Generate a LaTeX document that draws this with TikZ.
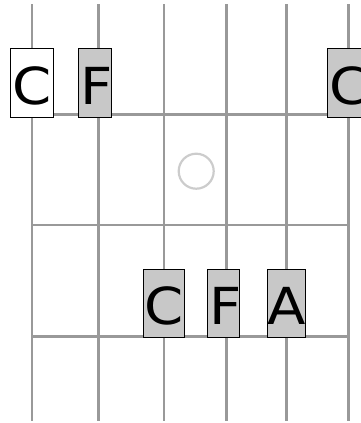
\documentclass[tikz,border=0pt]{standalone}
\usepackage{fontspec}
\setmainfont{DejaVu Sans}
\newfontfamily\notefont[FakeStretch=1.1]{DejaVu Sans}
\definecolor{gridgray}{HTML}{999999}
\definecolor{boxgray}{HTML}{C8C8C8}
\definecolor{markgray}{HTML}{CCCCCC}
\tikzset{
  fretline/.style={draw=gridgray, line width=2.6pt},
  notebox/.style={draw=black, line width=1pt, fill=boxgray, inner sep=0pt,
    minimum height=68.5pt, text height=43pt, text depth=0pt,
    font=\notefont\fontsize{51}{51}\selectfont},
  rootbox/.style={notebox, fill=white},
  marker/.style={draw=markgray, line width=2.2pt, fill=none}
}
\begin{document}
\begin{tikzpicture}[x=1pt,y=-1pt]
\useasboundingbox (0,0) rectangle (361,423);
% strings
\foreach \s/\x in {1/32,2/98.3,3/164,4/226.7,5/286.5,6/348.7}{
  \coordinate (st\s) at (\x,4);
  \coordinate (sb\s) at (\x,421);
  \draw[fretline] (st\s) -- (sb\s);
}
% frets
\foreach \f/\y in {1/114.5,2/225,3/336.5}{
  \coordinate (fl\f) at (32,\y);
  \coordinate (fr\f) at (348.7,\y);
  \draw[fretline] (fl\f) -- (fr\f);
}
% fret marker
\node[marker, circle, minimum size=35pt, inner sep=0pt] (dot) at (196.2,171.2) {};
% notes
\node[rootbox, minimum width=43pt] (n1) at (31.65,82.8) {\makebox[0pt]{C}};
\node[notebox, minimum width=32.4pt] (n2) at (94.85,82.8) {\makebox[0pt]{\hspace*{4pt}F}};
\node[notebox, minimum width=43pt] (n3) at (349.2,82.8) {\makebox[0pt]{C}};
\node[notebox, minimum width=40.7pt] (n4) at (163.65,303.3) {\makebox[0pt]{C}};
\node[notebox, minimum width=32.4pt] (n5) at (223.5,303.3) {\makebox[0pt]{\hspace*{4pt}F}};
\node[notebox, minimum width=38.4pt] (n6) at (286.5,303.3) {\makebox[0pt]{A}};
\end{tikzpicture}
\end{document}
